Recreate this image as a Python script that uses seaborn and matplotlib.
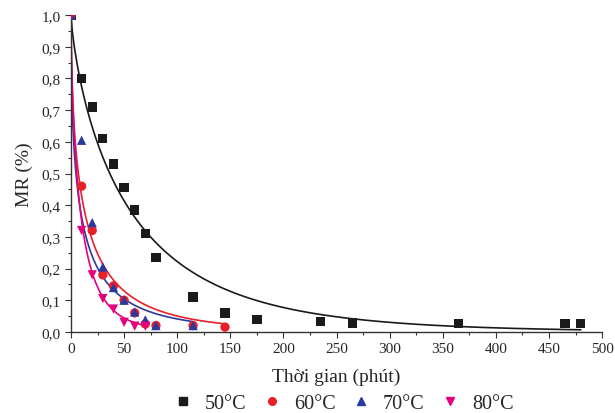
import matplotlib
matplotlib.use("Agg")
import matplotlib.pyplot as plt
import matplotlib.ticker as mticker
import numpy as np
import pandas as pd
import seaborn as sns

# ---- data ----
t50 = [0, 10, 20, 30, 40, 50, 60, 70, 80, 115, 145, 175, 235, 265, 365, 465, 480]
mr50 = [1.0, 0.80, 0.71, 0.61, 0.53, 0.455, 0.385, 0.31, 0.235, 0.11, 0.06, 0.04, 0.032, 0.028, 0.026, 0.026, 0.026]
t60 = [0, 10, 20, 30, 40, 50, 60, 70, 80, 115, 145]
mr60 = [1.0, 0.46, 0.32, 0.18, 0.145, 0.10, 0.06, 0.025, 0.02, 0.02, 0.015]
t70 = [0, 10, 20, 30, 40, 50, 60, 70, 80, 115]
mr70 = [1.0, 0.605, 0.345, 0.205, 0.14, 0.10, 0.063, 0.038, 0.02, 0.02]
t80 = [0, 10, 20, 30, 40, 50, 60, 70]
mr80 = [1.0, 0.32, 0.18, 0.105, 0.072, 0.03, 0.018, 0.018]

labels = ["50°C", "60°C", "70°C", "80°C"]
colors = ["#1a1a1a", "#e8202a", "#2b3a9e", "#e6007e"]
markers = ["s", "o", "^", "v"]

# Page-model fit parameters (MR = exp(-k t^n)) estimated from the drawn curves
fit_k = [0.0434, 0.238, 0.32, 0.219]
fit_n = [0.77, 0.55, 0.50, 0.68]
fit_tmax = [480, 145, 115, 72]

series_t = [t50, t60, t70, t80]
series_mr = [mr50, mr60, mr70, mr80]

pts = pd.concat([pd.DataFrame({"t": t, "MR": m, "T": lab})
                 for t, m, lab in zip(series_t, series_mr, labels)], ignore_index=True)

curves = []
for k, n, tm, lab in zip(fit_k, fit_n, fit_tmax, labels):
    tt = np.linspace(0, tm, 400)
    curves.append(pd.DataFrame({"t": tt, "MR": np.exp(-k * tt ** n), "T": lab}))
curves = pd.concat(curves, ignore_index=True)

sns.set_style("ticks")
plt.rcParams["font.family"] = ["Liberation Serif", "DejaVu Serif"]

fig = plt.figure(figsize=(6.15, 4.14), dpi=100)
ax = fig.add_axes([0.1154, 0.196, 0.8636, 0.765])

pal = dict(zip(labels, colors))
mk = dict(zip(labels, markers))

sns.lineplot(data=curves, x="t", y="MR", hue="T", palette=pal, ax=ax,
             legend=False, linewidth=1.2, sort=False, estimator=None)
sns.scatterplot(data=pts, x="t", y="MR", hue="T", style="T", palette=pal,
                markers=mk, s=45, edgecolor="none", ax=ax, legend=False, zorder=5)

ax.set_xlim(0, 500)
ax.set_ylim(0, 1.0)
ax.xaxis.set_major_locator(mticker.MultipleLocator(50))
ax.xaxis.set_minor_locator(mticker.MultipleLocator(25))
ax.yaxis.set_major_locator(mticker.MultipleLocator(0.1))
ax.yaxis.set_minor_locator(mticker.MultipleLocator(0.05))
ax.yaxis.set_major_formatter(mticker.FuncFormatter(lambda v, p: f"{v:.1f}".replace(".", ",")))
ax.tick_params(which="major", direction="out", length=4, width=0.8, labelsize=11, color="#333333")
ax.tick_params(which="minor", direction="out", length=2.5, width=0.8, color="#333333")
for s in ["top", "right"]:
    ax.spines[s].set_visible(False)
for s in ["left", "bottom"]:
    ax.spines[s].set_linewidth(1.0)
    ax.spines[s].set_color("#333333")

ax.set_xlabel("Thời gian (phút)", fontsize=14, labelpad=9)
ax.set_ylabel("MR (%)", fontsize=14, labelpad=6)

handles = [plt.Line2D([], [], linestyle="none", marker=m, color=c, markersize=5.5)
           for m, c in zip(markers, colors)]
fig.legend(handles, labels, loc="center", bbox_to_anchor=(0.558, 0.024), ncol=4,
           frameon=False, fontsize=14.5, handletextpad=0.6, columnspacing=0.75,
           handlelength=1.0, borderpad=0)

fig.savefig("out.png", dpi=100)
